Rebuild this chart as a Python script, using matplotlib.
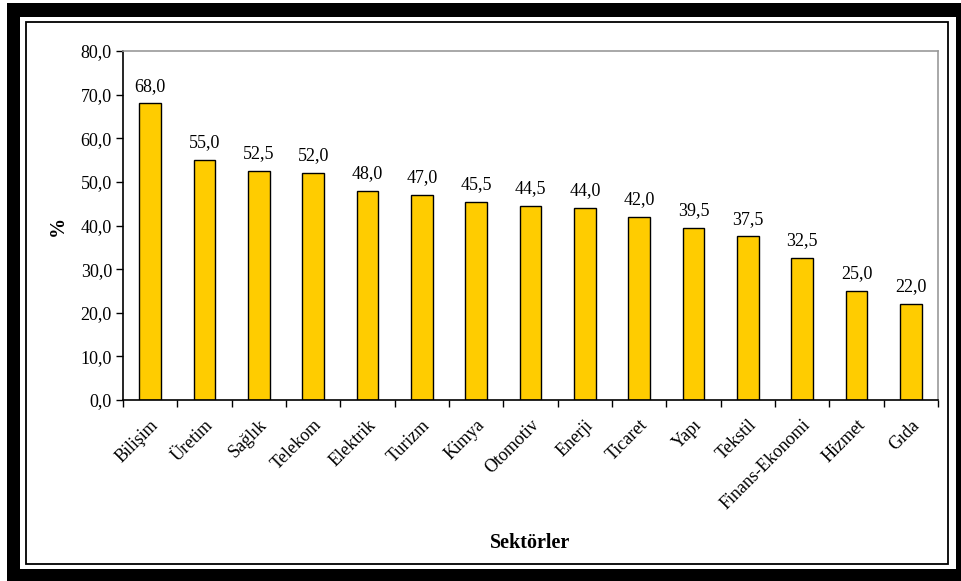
import matplotlib
matplotlib.use('Agg')
import matplotlib.pyplot as plt
from matplotlib.patches import Rectangle

# sectors and their percentages
sectors = ['Bilişim', 'Üretim', 'Sağlık', 'Telekom', 'Elektrik', 'Turizm', 'Kimya',
           'Otomotiv', 'Enerji', 'Ticaret', 'Yapı', 'Tekstil', 'Finans-Ekonomi',
           'Hizmet', 'Gıda']
values = [68.0, 55.0, 52.5, 52.0, 48.0, 47.0, 45.5, 44.5, 44.0, 42.0, 39.5, 37.5,
          32.5, 25.0, 22.0]
yticks = [0, 10, 20, 30, 40, 50, 60, 70, 80]

plt.rcParams['font.family'] = ['Liberation Serif', 'DejaVu Serif']

W, H = 962, 581
fig = plt.figure(figsize=(W / 100, H / 100), dpi=100)

def px_rect(x0, y0, x1, y1, **kw):
    # rectangle in pixel coords (origin top-left) -> figure fraction
    return Rectangle((x0 / W, 1 - y1 / H), (x1 - x0) / W, (y1 - y0) / H,
                     transform=fig.transFigure, **kw)

# thick black frame + thin inner frame, kept behind the axes
fig.patches.append(px_rect(7, 3, 962, 581, facecolor='black', edgecolor='none', zorder=-3))
fig.patches.append(px_rect(20, 17, 956, 569, facecolor='white', edgecolor='none', zorder=-2))
fig.patches.append(px_rect(26, 22, 948, 564, facecolor='white', edgecolor='black',
                           linewidth=1.3, zorder=-1))

ax = fig.add_axes([123 / W, 1 - 400 / H, (938 - 123) / W, (400 - 51) / H])
ax.set_zorder(1)
ax.set_facecolor('white')

x = list(range(len(sectors)))
ax.bar(x, values, width=0.4, color='#FFCC00', edgecolor='black', linewidth=1.0, zorder=2)

for xi, v in zip(x, values):
    ax.text(xi, v + 2.0, f'{v:.1f}'.replace('.', ','), ha='center', va='bottom',
            fontsize=13)

ax.set_xlim(-0.5, len(sectors) - 0.5)
ax.set_ylim(0, 80)
ax.set_yticks(yticks)
ax.set_yticklabels([f'{t:.1f}'.replace('.', ',') for t in yticks], fontsize=13)

# ticks at category boundaries, labels at centres
ax.set_xticks([i - 0.5 for i in range(len(sectors) + 1)])
ax.set_xticklabels([])
ax.set_xticks(x, minor=True)
ax.set_xticklabels(sectors, minor=True, rotation=45, ha='right', rotation_mode='anchor',
                   fontsize=13)
ax.tick_params(axis='x', which='minor', length=0, pad=12)
ax.tick_params(axis='x', which='major', direction='out', length=5, width=1)
ax.tick_params(axis='y', direction='out', length=5, width=1, pad=3)

for s in ['top', 'right']:
    ax.spines[s].set_color('#999999')
    ax.spines[s].set_linewidth(1.2)
for s in ['left', 'bottom']:
    ax.spines[s].set_color('black')
    ax.spines[s].set_linewidth(1.2)

ax.set_ylabel('%', fontsize=14.5, fontweight='bold', labelpad=9)
ax.set_xlabel('Sektörler', fontsize=14.5, fontweight='bold', labelpad=14)

fig.savefig('out.png', dpi=100)
